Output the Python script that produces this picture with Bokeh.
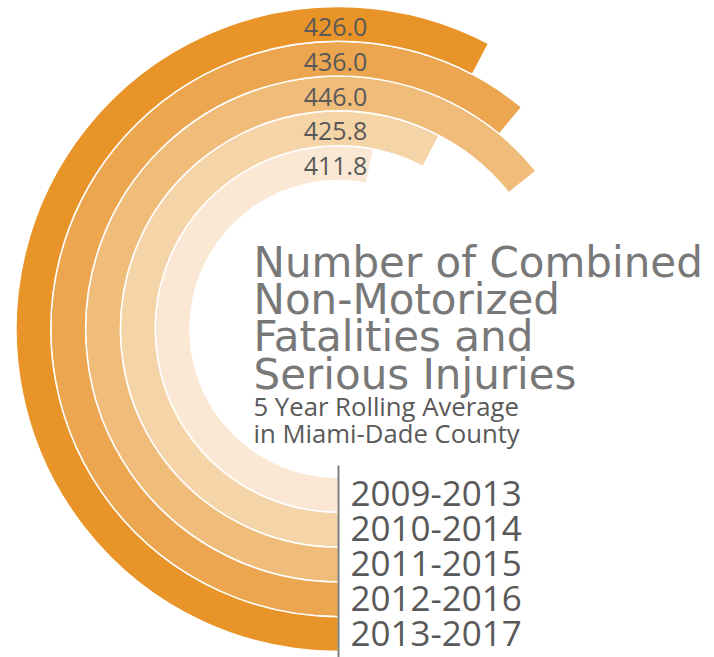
import math
from bokeh.plotting import figure
from bokeh.models import ColumnDataSource, Range1d
from bokeh.core.properties import value
from bokeh.embed import file_html
from bokeh.resources import INLINE

# ---- data ----
periods = ["2009-2013", "2010-2014", "2011-2015", "2012-2016", "2013-2017"]
values = [411.8, 425.8, 446.0, 436.0, 426.0]
colors = ["#FAE8D4", "#F5D4A8", "#F0BC7A", "#ECA64F", "#E89428"]
title_lines = ["Number of Combined", "Non-Motorized", "Fatalities and", "Serious Injuries"]
subtitle_lines = ["5 Year Rolling Average", "in Miami-Dade County"]

# ---- radial scale: value -> sweep angle (clockwise from 6 o'clock) ----
SCALE_MIN, SCALE_MAX = 250.0, 555.0   # domain mapped onto a full turn
INNER_R = 148.5
RING_W = 34.8

def sweep(v):
    return (v - SCALE_MIN) / (SCALE_MAX - SCALE_MIN) * 2 * math.pi

n = len(values)
inner = [INNER_R + i * RING_W for i in range(n)]
outer = [r + RING_W for r in inner]
mid = [r + RING_W / 2 for r in inner]
start = [-math.pi / 2] * n
end = [-math.pi / 2 - sweep(v) for v in values]

ring_src = ColumnDataSource(dict(inner=inner, outer=outer, start=start, end=end,
                                 color=colors))
val_src = ColumnDataSource(dict(x=[-3] * n, y=[m - 3 for m in mid],
                                txt=[f"{v:.1f}" for v in values]))
per_src = ColumnDataSource(dict(x=[12] * n, y=[-m + 1 for m in mid], txt=periods))

W, H = 714, 657
CX, CY = 338, 328.5   # pixel position of the ring centre inside the frame
p = figure(width=W, height=H, x_range=Range1d(-CX, W - CX), y_range=Range1d(-(H - CY), CY),
           output_backend="svg", toolbar_location=None, min_border=0)
p.axis.visible = False
p.grid.visible = False
p.outline_line_color = None
p.background_fill_color = "white"
p.border_fill_color = "white"

p.annular_wedge(x=0, y=0, inner_radius="inner", outer_radius="outer",
                start_angle="start", end_angle="end", direction="clock",
                fill_color="color", line_color="white", line_width=1.5, source=ring_src)

p.text(x="x", y="y", text="txt", source=val_src, text_font=value("Open Sans"),
       text_font_size="25px", text_color="#595959", text_align="center",
       text_baseline="middle")

# vertical divider
p.segment(x0=0, y0=-(INNER_R - 12), x1=0, y1=-(outer[-1] + 12), line_color="#7F7F7F",
          line_width=2)

p.text(x="x", y="y", text="txt", source=per_src, text_font=value("Open Sans"),
       text_font_size="35px", text_color="#595959", text_align="left",
       text_baseline="middle")

# title block
tx = -85
title_src = ColumnDataSource(dict(x=[tx] * 4, y=[CY - c for c in (262, 299, 336, 374)],
                                  txt=title_lines))
p.text(x="x", y="y", text="txt", source=title_src, text_font=value("DejaVu Sans"),
       text_font_size="42px", text_color="#787878",
       text_align="left", text_baseline="middle")
sub_src = ColumnDataSource(dict(x=[tx] * 2, y=[CY - c for c in (406, 433)],
                                txt=subtitle_lines))
p.text(x="x", y="y", text="txt", source=sub_src, text_font=value("Open Sans"),
       text_font_size="25.7px", text_color="#595959", text_align="left",
       text_baseline="middle")

open("out.html", "w").write(file_html(p, INLINE))
